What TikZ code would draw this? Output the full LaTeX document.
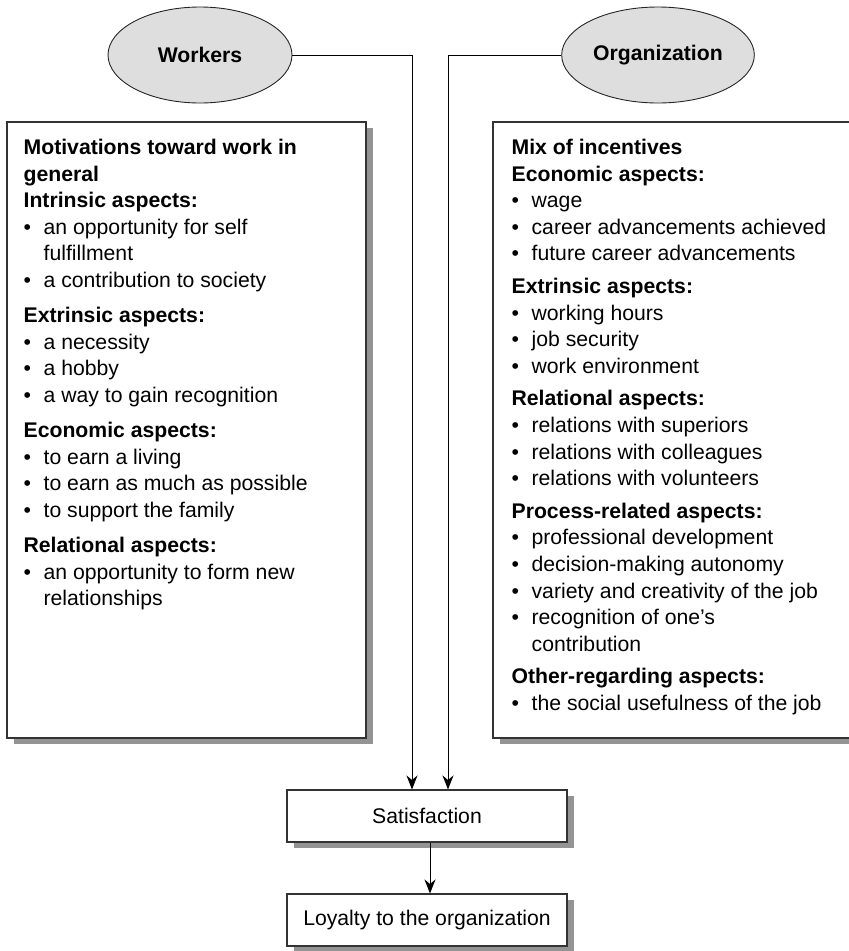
\documentclass[tikz,border=0pt]{standalone}
\usepackage{fontspec}
\setmainfont{Liberation Sans}
\usetikzlibrary{arrows.meta,positioning,shapes.geometric,shadows}

\newcommand{\itm}[1]{\makebox[20pt][l]{\textbullet}#1}
\newcommand{\cont}[1]{\hspace*{20pt}#1}

\begin{document}
\begin{tikzpicture}[x=1pt,y=-1pt,
  every node/.style={font=\fontsize{21.2}{26.6}\selectfont},
  panel/.style={rectangle, draw=black!80, line width=1.1pt, fill=white,
    drop shadow={shadow xshift=7pt, shadow yshift=-6pt, fill=black!42, opacity=1}},
  party/.style={ellipse, draw=black!85, line width=0.9pt, fill=black!13,
    minimum width=184pt, minimum height=96pt, font=\fontsize{21.2}{26.6}\selectfont\bfseries},
  listing/.style={align=left, inner sep=0pt, anchor=north west},
  arr/.style={-{Stealth[length=14pt,width=11pt]}, line width=0.9pt}]
  \useasboundingbox (0,0) rectangle (849,951);
  \clip (0,0) rectangle (849,951);

  % The two parties
  \node[party] (wk) at (200,55) {Workers};
  \node[party] (org) at (658,55) {Organization};

  % Their panels
  \node[panel, minimum width=359pt, minimum height=616pt] (wbox) at (186.5,430) {};
  \node[panel, minimum width=380pt, minimum height=616pt] (obox) at (683,430) {};

  \node[listing, below right=17.5pt and 17pt of wbox.north west] (wtext) {%
    \textbf{Motivations toward work in}\\
    \textbf{general}\\
    \textbf{Intrinsic aspects:}\\
    \itm{an opportunity for self}\\
    \cont{fulfillment}\\
    \itm{a contribution to society}\\[8.5pt]
    \textbf{Extrinsic aspects:}\\
    \itm{a necessity}\\
    \itm{a hobby}\\
    \itm{a way to gain recognition}\\[8.5pt]
    \textbf{Economic aspects:}\\
    \itm{to earn a living}\\
    \itm{to earn as much as possible}\\
    \itm{to support the family}\\[8.5pt]
    \textbf{Relational aspects:}\\
    \itm{an opportunity to form new}\\
    \cont{relationships}};

  \node[listing, below right=17.5pt and 19pt of obox.north west] (otext) {%
    \textbf{Mix of incentives}\\
    \textbf{Economic aspects:}\\
    \itm{wage}\\
    \itm{career advancements achieved}\\
    \itm{future career advancements}\\[6pt]
    \textbf{Extrinsic aspects:}\\
    \itm{working hours}\\
    \itm{job security}\\
    \itm{work environment}\\[6pt]
    \textbf{Relational aspects:}\\
    \itm{relations with superiors}\\
    \itm{relations with colleagues}\\
    \itm{relations with volunteers}\\[6pt]
    \textbf{Process-related aspects:}\\
    \itm{professional development}\\
    \itm{decision-making autonomy}\\
    \itm{variety and creativity of the job}\\
    \itm{recognition of one’s}\\
    \cont{contribution}\\[6pt]
    \textbf{Other-regarding aspects:}\\
    \itm{the social usefulness of the job}};

  % Outcomes
  \node[panel, minimum width=280pt, minimum height=52pt] (sat) at (427,816) {Satisfaction};
  \node[panel, minimum width=280pt, minimum height=52pt] (loy) at (427,920) {Loyalty to the organization};

  % Connectors
  \coordinate (win) at ([xshift=-15pt]sat.north);
  \coordinate (oin) at ([xshift=21pt]sat.north);
  \draw[arr] (wk.east) -| (win);
  \draw[arr] (org.west) -| (oin);
  \draw[arr] ([xshift=3pt]sat.south) -- ([xshift=3pt]loy.north);
\end{tikzpicture}
\end{document}
